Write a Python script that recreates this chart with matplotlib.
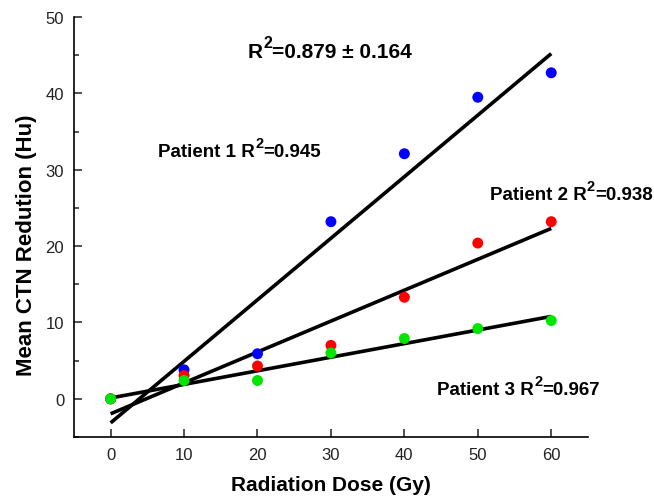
import numpy as np
import matplotlib
matplotlib.use("Agg")
import matplotlib.pyplot as plt
from matplotlib.ticker import MultipleLocator

plt.rcParams['font.family'] = ['Liberation Sans', 'DejaVu Sans']

dose = [0, 10, 20, 30, 40, 50, 60]
patient1 = [0, 3.8, 5.9, 23.2, 32.1, 39.5, 42.7]
patient2 = [0, 3.05, 4.3, 7.0, 13.3, 20.4, 23.2]
patient3 = [0, 2.4, 2.4, 6.0, 7.9, 9.2, 10.25]
colors = ['#0000ff', '#ff0000', '#00e600']
labels = [("Patient 1 R", "0.945"), ("Patient 2 R", "0.938"), ("Patient 3 R", "0.967")]
label_pos = [(6.5, 31.8), (51.6, 26.2), (44.5, 0.65)]
overall = ("R", "0.879 \u00b1 0.164")
overall_pos = (18.7, 44.8)

fig = plt.figure(figsize=(6.54, 5.02), dpi=100)
ax = fig.add_axes([0.113, 0.1275, 0.786, 0.8365])

x = np.array(dose, dtype=float)
series = [patient1, patient2, patient3]
for ys in series:
    k, b = np.polyfit(x, np.array(ys), 1)
    xx = np.array([0, 60])
    ax.plot(xx, k * xx + b, color='black', lw=2.6, solid_capstyle='butt', zorder=2)
for ys, c in zip(series, colors):
    ax.scatter(x, ys, s=62, color=c, zorder=3, edgecolors='none')


def r2_text(pos, head, value, fs, sfs, rise):
    t1 = ax.text(pos[0], pos[1], head, fontsize=fs, fontweight='bold',
                 ha='left', va='baseline')
    t2 = ax.annotate("2", xy=(1, 0), xycoords=t1, xytext=(0.3, rise),
                     textcoords='offset points', fontsize=sfs,
                     fontweight='bold', ha='left', va='bottom')
    ax.annotate("=" + value, xy=(1, 0), xycoords=(t2, t1), xytext=(0, 0),
                textcoords='offset points', fontsize=fs, fontweight='bold',
                ha='left', va='bottom')


for (h, v), p in zip(labels, label_pos):
    r2_text(p, h, v, 13.5, 10.5, 7.0)
r2_text(overall_pos, overall[0], overall[1], 15, 11.5, 7.5)

ax.set_xlim(-5, 65)
ax.set_ylim(-5, 50)
ax.xaxis.set_major_locator(MultipleLocator(10))
ax.yaxis.set_major_locator(MultipleLocator(10))
ax.yaxis.set_minor_locator(MultipleLocator(5))
ax.spines['top'].set_visible(False)
ax.spines['right'].set_visible(False)
for s in ['left', 'bottom']:
    ax.spines[s].set_linewidth(1.2)
ax.tick_params(which='major', direction='in', length=6, width=1.1,
               labelsize=12, pad=7, colors='#222222')
ax.tick_params(which='minor', direction='in', length=3.5, width=1.1, colors='#222222')
ax.set_xlabel("Radiation Dose (Gy)", fontsize=15, fontweight='bold')
ax.set_ylabel("Mean CTN Redution (Hu)", fontsize=16, fontweight='bold')
ax.xaxis.set_label_coords(0.5, -0.09)
ax.yaxis.set_label_coords(-0.072, 0.4595)

fig.savefig("out.png", dpi=100)
